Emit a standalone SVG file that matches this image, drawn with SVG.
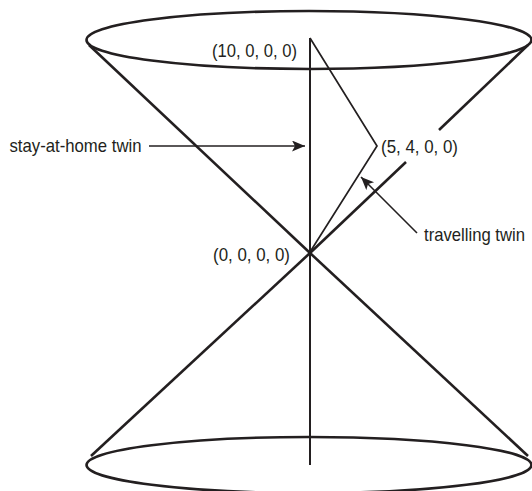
<svg xmlns="http://www.w3.org/2000/svg" width="532" height="491" viewBox="0 0 532 491">
<style>
.cone{fill:none;stroke:#231f20;stroke-width:2.6}
.axis{fill:none;stroke:#231f20;stroke-width:2}
.path{fill:none;stroke:#231f20;stroke-width:1.7;stroke-linejoin:miter}
.arr{fill:none;stroke:#231f20;stroke-width:1.6}
text{font-family:"Liberation Sans",Arial,sans-serif;font-size:18.5px;fill:#231f20}
</style>
<defs>
<marker id="ah" markerUnits="userSpaceOnUse" markerWidth="14" markerHeight="12" refX="13" refY="5.5" orient="auto">
<path d="M0,0 L13,5.5 L0,11 L3,5.5 Z" fill="#231f20"/>
</marker>
</defs>
<g id="cone">
<ellipse class="cone" cx="309" cy="40" rx="222.5" ry="29"/>
<ellipse class="cone" cx="309" cy="465" rx="222.5" ry="28"/>
</g>
<g id="connectors">
<line class="cone" x1="89" y1="45" x2="310" y2="253"/>
<line class="cone" x1="528" y1="45" x2="439" y2="130"/>
<line class="cone" x1="406" y1="162" x2="310" y2="253"/>
<line class="cone" x1="310" y1="253" x2="91" y2="456"/>
<line class="cone" x1="310" y1="253" x2="528" y2="456"/>
<line class="axis" x1="310" y1="38" x2="310" y2="465"/>
<polyline class="path" points="310,252 377,146 310,38"/>
<line class="arr" x1="149" y1="146" x2="305" y2="146" marker-end="url(#ah)"/>
<line class="arr" x1="417" y1="233" x2="361" y2="177" marker-end="url(#ah)"/>
</g>
<g id="label-top"><text x="212" y="57" textLength="85" lengthAdjust="spacingAndGlyphs">(10, 0, 0, 0)</text></g>
<g id="label-mid"><text x="381" y="153" textLength="77" lengthAdjust="spacingAndGlyphs">(5, 4, 0, 0)</text></g>
<g id="label-origin"><text x="213" y="261" textLength="77" lengthAdjust="spacingAndGlyphs">(0, 0, 0, 0)</text></g>
<g id="label-home"><text x="9.5" y="152" textLength="132" lengthAdjust="spacingAndGlyphs">stay-at-home twin</text></g>
<g id="label-travel"><text x="424" y="241" textLength="101" lengthAdjust="spacingAndGlyphs">travelling twin</text></g>
</svg>
